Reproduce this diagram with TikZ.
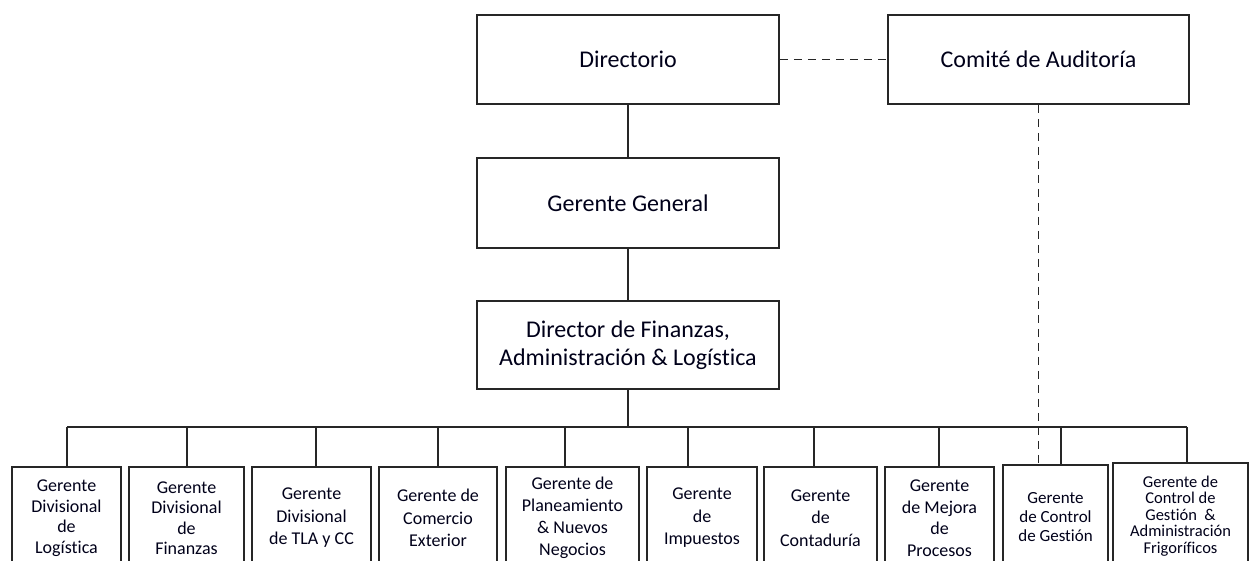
\documentclass[tikz,border=0pt]{standalone}
\usepackage{fontspec}
\setmainfont{Carlito}[Ligatures=NoCommon]
\usetikzlibrary{calc}

\begin{document}
\begin{tikzpicture}[x=1pt, y=-1pt,
        topbox/.style={draw=black!85, line width=1.9pt, minimum height=89pt, inner sep=0pt,
            align=center, text=black!90!blue, font=\fontsize{24}{28}\selectfont},
        gerbox/.style={draw=black!85, line width=1.9pt, minimum height=102pt, inner sep=0pt,
            align=center, text=black!90!blue, font=\fontsize{18}{22.5}\selectfont},
        link/.style={draw=black!85, line width=1.9pt},
        dashlink/.style={draw=black!85, line width=1.9pt, dash pattern=on 8pt off 6pt}]
        \useasboundingbox (0,0) rectangle (1250,561);
        \clip (0,0) rectangle (1250,561);
        \node[topbox, minimum width=302pt] (dir) at (628,59.5) {Directorio};
        \node[topbox, minimum width=301pt] (com) at (1038.5,59.5) {Comité de Auditoría};
        \node[topbox, minimum width=302pt, minimum height=90pt] (gg) at (628,203) {Gerente General};
        \node[topbox, minimum width=302pt, minimum height=88pt] (dfa) at (628,345) {Director de Finanzas,\\Administración \& Logística};
        \node[gerbox, minimum width=109pt, font=\fontsize{18}{20.5}\selectfont] (g1) at (66.5,518) {Gerente\\Divisional\\de\\Logística};
        \node[gerbox, minimum width=115pt, font=\fontsize{18}{20.5}\selectfont] (g2) at (186.5,518) {Gerente\\Divisional\\de\\Finanzas};
        \node[gerbox, minimum width=119pt] (g3) at (311.5,518) {Gerente\\Divisional\\de TLA y CC};
        \node[gerbox, minimum width=118pt] (g4) at (438,518) {Gerente de\\Comercio\\Exterior};
        \node[gerbox, minimum width=133pt, font=\fontsize{18}{22}\selectfont] (g5) at (572.5,518) {Gerente de\\Planeamiento\\\& Nuevos\\Negocios};
        \node[gerbox, minimum width=110pt] (g6) at (702,518) {Gerente\\de\\Impuestos};
        \node[gerbox, minimum width=113pt] (g7) at (820.5,518) {Gerente\\de\\Contaduría};
        \node[gerbox, minimum width=109pt, font=\fontsize{18}{21.5}\selectfont] (g8) at (939.5,518) {Gerente\\de Mejora\\de\\Procesos};
        \node[gerbox, minimum width=105pt, minimum height=104pt, font=\fontsize{17}{19}\selectfont] (g9) at (1055.5,517) {Gerente\\de Control\\de Gestión};
        \node[gerbox, minimum width=135pt, minimum height=106pt, font=\fontsize{16.5}{16.5}\selectfont] (g10) at (1180.5,516) {Gerente de\\Control de\\Gestión \ \&\\Administración\\Frigoríficos};
        \coordinate (t1) at (67,427);
        \coordinate (t2) at (187,427);
        \coordinate (t3) at (316,427);
        \coordinate (t4) at (438,427);
        \coordinate (t5) at (565,427);
        \coordinate (t6) at (688,427);
        \coordinate (t7) at (814,427);
        \coordinate (t8) at (939,427);
        \coordinate (t9) at (1061,427);
        \coordinate (t10) at (1187,427);
        \draw[link] (dir) -- (gg);
        \draw[link] (gg) -- (dfa);
        \draw[link] (dfa) -- (dfa |- t1);
        \draw[link] (t1) -- (t10);
        \draw[link] (t1) -- (t1 |- g1.north);
        \draw[link] (t2) -- (t2 |- g2.north);
        \draw[link] (t3) -- (t3 |- g3.north);
        \draw[link] (t4) -- (t4 |- g4.north);
        \draw[link] (t5) -- (t5 |- g5.north);
        \draw[link] (t6) -- (t6 |- g6.north);
        \draw[link] (t7) -- (t7 |- g7.north);
        \draw[link] (t8) -- (t8 |- g8.north);
        \draw[link] (t9) -- (t9 |- g9.north);
        \draw[link] (t10) -- (t10 |- g10.north);
        \draw[dashlink] (dir.east) -- (com.west);
        \draw[dashlink] (com.south) -- (com.south |- g9.north);
    \end{tikzpicture}
\end{document}
